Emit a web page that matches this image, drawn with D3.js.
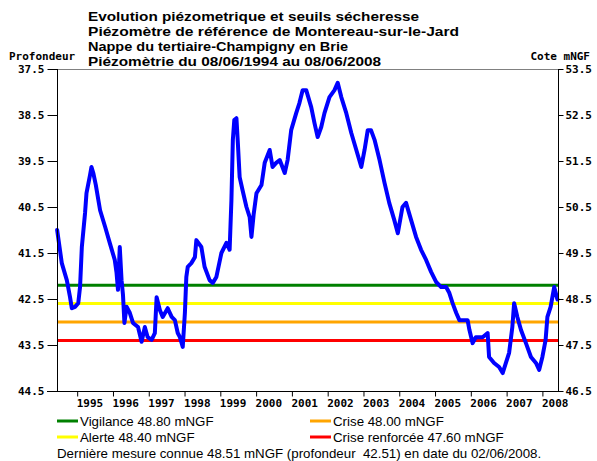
<!DOCTYPE html>
<html>
<head>
<meta charset="utf-8">
<script src="https://cdn.jsdelivr.net/npm/d3@7"></script>
<style>
  html, body { margin: 0; padding: 0; background: #fff; }
  svg { display: block; }
</style>
</head>
<body>
<svg id="chart" width="597" height="461"></svg>
<script>
// ---- Data ----
const titleLines = [
  "Evolution piézometrique et seuils sécheresse",
  "Piézomètre de référence de Montereau-sur-le-Jard",
  "Nappe du tertiaire-Champigny en Brie",
  "Piézomètrie du 08/06/1994 au 08/06/2008"
];
const leftAxisTitle = "Profondeur";
const rightAxisTitle = "Cote mNGF";
const depthTicks = [37.5, 38.5, 39.5, 40.5, 41.5, 42.5, 43.5, 44.5];
const coteTicks = [53.5, 52.5, 51.5, 50.5, 49.5, 48.5, 47.5, 46.5];
const yearTicks = [1995, 1996, 1997, 1998, 1999, 2000, 2001, 2002, 2003, 2004, 2005, 2006, 2007, 2008];
const dateStart = 1994.436, dateEnd = 2008.436;

// series: decimal year, depth (profondeur)
const dates = [
  1994.44,1994.57,1994.71,1994.80,1994.85,1994.94,1995.03,1995.08,1995.13,1995.22,
  1995.26,1995.36,1995.40,1995.45,1995.52,1995.64,1995.78,1995.91,1996.05,1996.10,
  1996.14,1996.19,1996.24,1996.28,1996.32,1996.38,1996.47,1996.56,1996.70,1996.80,
  1996.89,1996.97,1997.08,1997.17,1997.22,1997.31,1997.39,1997.53,1997.64,1997.73,
  1997.81,1997.87,1997.95,1998.01,1998.05,1998.09,1998.19,1998.29,1998.33,1998.47,
  1998.56,1998.70,1998.79,1998.89,1999.03,1999.17,1999.26,1999.31,1999.35,1999.39,
  1999.45,1999.49,1999.54,1999.62,1999.73,1999.82,1999.87,1999.93,2000.01,2000.15,
  2000.24,2000.38,2000.46,2000.56,2000.66,2000.80,2000.88,2000.98,2001.12,2001.21,
  2001.30,2001.40,2001.54,2001.63,2001.72,2001.82,2001.91,2002.05,2002.19,2002.28,
  2002.38,2002.52,2002.66,2002.80,2002.94,2003.03,2003.12,2003.21,2003.31,2003.45,
  2003.59,2003.72,2003.86,2003.96,2004.09,2004.19,2004.33,2004.47,2004.61,2004.75,
  2004.89,2005.03,2005.17,2005.31,2005.40,2005.49,2005.59,2005.68,2005.82,2005.91,
  2005.96,2006.05,2006.14,2006.33,2006.47,2006.51,2006.65,2006.79,2006.89,2006.98,
  2007.07,2007.16,2007.21,2007.30,2007.40,2007.54,2007.68,2007.82,2007.91,2008.00,
  2008.09,2008.14,2008.23,2008.33,2008.42
];
const depths = [
  41.00,41.72,42.09,42.46,42.70,42.67,42.59,42.24,41.37,40.63,
  40.20,39.80,39.63,39.76,40.02,40.57,40.93,41.28,41.65,41.93,
  42.30,41.37,42.09,42.41,43.02,42.67,42.80,43.02,43.11,43.43,
  43.11,43.33,43.39,43.24,42.46,42.74,42.89,42.70,42.89,42.96,
  43.24,43.33,43.54,42.80,42.02,41.80,41.72,41.59,41.22,41.37,
  41.80,42.09,42.15,42.02,41.50,41.28,41.43,40.35,39.04,38.61,
  38.57,39.11,39.85,40.13,40.50,40.72,41.15,40.67,40.20,40.02,
  39.54,39.26,39.63,39.54,39.48,39.76,39.48,38.83,38.46,38.24,
  37.96,37.96,38.33,38.67,38.98,38.76,38.46,38.11,37.96,37.80,
  38.11,38.46,38.89,39.26,39.63,39.26,38.83,38.83,39.04,39.48,
  39.98,40.41,40.78,41.07,40.50,40.41,40.78,41.15,41.43,41.65,
  41.91,42.13,42.24,42.24,42.37,42.59,42.80,42.96,42.96,42.96,
  43.17,43.46,43.33,43.33,43.24,43.76,43.89,43.98,44.11,43.89,
  43.67,43.11,42.59,42.89,43.17,43.46,43.76,43.89,44.04,43.76,
  43.39,42.89,42.67,42.24,42.51
];

const thresholdNames = ["Vigilance", "Alerte", "Crise", "Crise renforcée"];
const thresholdValues = [48.80, 48.40, 48.00, 47.60]; // mNGF
const thresholdColors = ["#008000", "#ffff00", "#ffa500", "#ff0000"];
const footerText = "Dernière mesure connue 48.51 mNGF (profondeur  42.51) en date du 02/06/2008.";

// ---- Layout ----
const L = 57, R = 558, T = 69, B = 391;
const titleWidths = [331, 371, 260, 293]; // rendered widths of the title lines (layout)
const svg = d3.select("#chart");

const x = d3.scaleLinear().domain([dateStart, dateEnd]).range([L, R]);
const yDepth = d3.scaleLinear().domain([37.5, 44.5]).range([T, B]);
const yCote = d3.scaleLinear().domain([53.5, 46.5]).range([T, B]);

const monoFont = "'DejaVu Sans Mono', monospace";
const sansFont = "'Liberation Sans', Arial, sans-serif";
const monoSize = "11px";

// Title
svg.append("g").selectAll("text").data(titleLines).join("text")
  .attr("x", 88).attr("y", (d, i) => 20.5 + i * 15)
  .attr("font-family", sansFont).attr("font-weight", "bold").attr("font-size", "13px")
  .attr("textLength", (d, i) => titleWidths[i]).attr("lengthAdjust", "spacingAndGlyphs")
  .attr("fill", "#000").text(d => d);

// Axis titles
svg.append("text").attr("x", 9).attr("y", 60)
  .attr("font-family", monoFont).attr("font-weight", "bold").attr("font-size", monoSize)
  .text(leftAxisTitle);
svg.append("text").attr("x", 590).attr("y", 60).attr("text-anchor", "end")
  .attr("font-family", monoFont).attr("font-weight", "bold").attr("font-size", monoSize)
  .text(rightAxisTitle);

// Top border
svg.append("line").attr("x1", L).attr("x2", R).attr("y1", T + 0.5).attr("y2", T + 0.5)
  .attr("stroke", "#808080").attr("stroke-width", 1);

// Thresholds
const thrG = svg.append("g");
thresholdValues.forEach((v, i) => {
  const yy = yCote(v);
  thrG.append("line").attr("x1", L).attr("x2", R).attr("y1", yy).attr("y2", yy)
    .attr("stroke", thresholdColors[i]).attr("stroke-width", 3);
});

// Series
const series = dates.map((d, i) => ({ t: d, depth: depths[i] }));
const line = d3.line().x(d => x(d.t)).y(d => yDepth(d.depth));
svg.append("path").datum(series).attr("d", line)
  .attr("fill", "none").attr("stroke", "#0000ff").attr("stroke-width", 4)
  .attr("stroke-linejoin", "round").attr("stroke-linecap", "round");

// Left axis
const leftAxis = d3.axisLeft(yDepth).tickValues(depthTicks).tickSize(10).tickPadding(3)
  .tickFormat(d3.format(".1f"));
const gl = svg.append("g").attr("transform", `translate(${L + 0.5},0)`).call(leftAxis);
gl.select(".domain").remove();
gl.append("line").attr("x1", 0).attr("x2", 0).attr("y1", T).attr("y2", B).attr("stroke", "#000");
gl.selectAll("text").attr("font-family", monoFont).attr("font-weight", "bold").attr("font-size", monoSize).attr("fill", "#000");

// Right axis
const rightAxis = d3.axisRight(yCote).tickValues(coteTicks).tickSize(5).tickPadding(2)
  .tickFormat(d3.format(".1f"));
const gr = svg.append("g").attr("transform", `translate(${R + 0.5},0)`).call(rightAxis);
gr.select(".domain").remove();
gr.append("line").attr("x1", 0).attr("x2", 0).attr("y1", T).attr("y2", B).attr("stroke", "#000");
gr.selectAll("text").attr("font-family", monoFont).attr("font-weight", "bold").attr("font-size", monoSize).attr("fill", "#000");

// Bottom axis
const bottomAxis = d3.axisBottom(x).tickValues(yearTicks).tickSize(5).tickFormat(d3.format("d"));
const gb = svg.append("g").attr("transform", `translate(0,${B + 0.5})`).call(bottomAxis);
gb.select(".domain").remove();
gb.append("line").attr("x1", L - 10).attr("x2", R + 5).attr("y1", 0).attr("y2", 0).attr("stroke", "#000");
gb.selectAll(".tick text").attr("text-anchor", "start").attr("dx", "-1").attr("y", 8)
  .attr("font-family", monoFont).attr("font-weight", "bold").attr("font-size", monoSize).attr("fill", "#000");

// Legend
const legendPos = [[57, 421], [57, 437], [310, 421], [310, 437]];
thresholdNames.forEach((name, i) => {
  const [lx, ly] = legendPos[i];
  svg.append("line").attr("x1", lx).attr("x2", lx + 21).attr("y1", ly).attr("y2", ly)
    .attr("stroke", thresholdColors[i]).attr("stroke-width", 3);
  svg.append("text").attr("x", lx + 23).attr("y", ly + 5)
    .attr("font-family", sansFont).attr("font-size", "13.3px").attr("fill", "#000")
    .text(`${name} ${thresholdValues[i].toFixed(2)} mNGF`);
});

// Footer
svg.append("text").attr("x", 57).attr("y", 458)
  .attr("font-family", sansFont).attr("font-size", "13.3px").attr("fill", "#000")
  .style("white-space", "pre")
  .text(footerText);
</script>
</body>
</html>
